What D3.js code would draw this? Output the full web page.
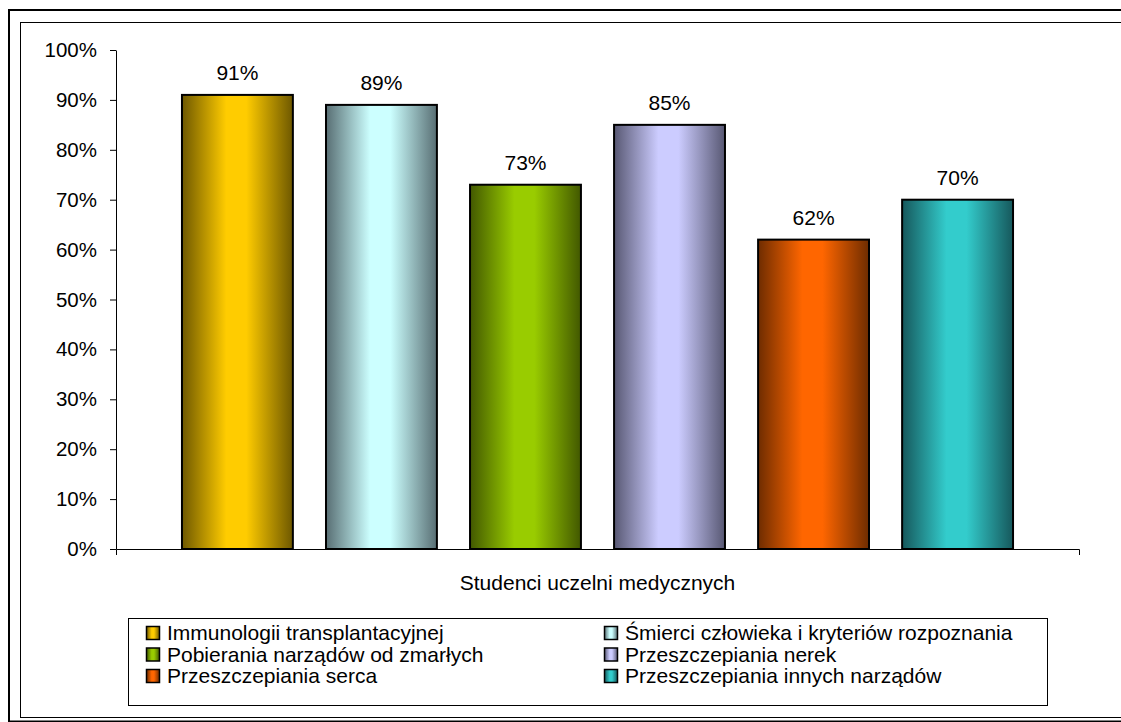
<!DOCTYPE html>
<html>
<head>
<meta charset="utf-8">
<script src="https://cdn.jsdelivr.net/npm/d3@7/dist/d3.min.js"></script>
<style>
  html, body { margin: 0; padding: 0; background: #fff; }
  svg { display: block; font-family: "Liberation Sans", Arial, sans-serif; }
</style>
</head>
<body>
<svg id="chart" width="1121" height="722"></svg>
<script>
// ---- data ----
const categories = ["Studenci uczelni medycznych"];
const series = [
  "Immunologii transplantacyjnej",
  "Śmierci człowieka i kryteriów rozpoznania",
  "Pobierania narządów od zmarłych",
  "Przeszczepiania nerek",
  "Przeszczepiania serca",
  "Przeszczepiania innych narządów"
];
const values = [91, 89, 73, 85, 62, 70];
const yTicks = [0, 10, 20, 30, 40, 50, 60, 70, 80, 90, 100];
const colors = ["#ffcc00", "#ccffff", "#99cc00", "#ccccff", "#ff6600", "#33cccc"];

// ---- layout ----
const svg = d3.select("#chart");
const W = 1121, H = 722;
const plot = { left: 116, right: 1079, top: 50, bottom: 549 };

// frames
svg.append("rect").attr("x", 9).attr("y", 10).attr("width", W + 20).attr("height", 711.5)
  .attr("fill", "none").attr("stroke", "#000").attr("stroke-width", 2);
svg.append("rect").attr("x", 20.5).attr("y", 22.5).attr("width", W + 20).attr("height", 695)
  .attr("fill", "none").attr("stroke", "#000").attr("stroke-width", 1);

// gradients
const defs = svg.append("defs");
colors.forEach((c, i) => {
  const light = d3.rgb(c);
  const dark = d3.rgb(light.r * 0.43, light.g * 0.43, light.b * 0.45);
  const g = defs.append("linearGradient").attr("id", "grad" + i)
    .attr("x1", "0%").attr("x2", "100%").attr("y1", "0%").attr("y2", "0%");
  g.append("stop").attr("offset", "0%").attr("stop-color", dark.formatHex());
  g.append("stop").attr("offset", "40%").attr("stop-color", light.formatHex());
  g.append("stop").attr("offset", "58%").attr("stop-color", light.formatHex());
  g.append("stop").attr("offset", "100%").attr("stop-color", dark.formatHex());
});

// scales
const y = d3.scaleLinear().domain([0, 100]).range([plot.bottom, plot.top]);
const xCat = d3.scaleBand().domain(categories).range([plot.left, plot.right]);
const x = d3.scaleBand().domain(series).range([plot.left, plot.right])
  .paddingInner(0.23).paddingOuter(0.458);

// y axis
const yAxis = d3.axisLeft(y).tickValues(yTicks).tickSize(6).tickSizeOuter(0).tickPadding(13)
  .tickFormat(d => d + "%");
const gy = svg.append("g").attr("transform", `translate(${plot.left},0)`).call(yAxis);
gy.select(".domain").attr("stroke", "#000");
gy.selectAll(".tick line").attr("stroke", "#000");
gy.selectAll(".tick text").attr("font-size", "20.5px").attr("fill", "#000")
  .attr("font-family", "Liberation Sans, Arial, sans-serif");

// x axis
const xAxis = d3.axisBottom(xCat).tickSize(0).tickSizeOuter(6).tickPadding(26);
const gx = svg.append("g").attr("transform", `translate(0,${plot.bottom})`).call(xAxis);
gx.select(".domain").attr("stroke", "#000");
gx.selectAll(".tick text").attr("font-size", "21px").attr("fill", "#000")
  .attr("font-family", "Liberation Sans, Arial, sans-serif");

// bars
svg.append("g").selectAll("rect").data(series).join("rect")
  .attr("x", d => x(d))
  .attr("y", (d, i) => y(values[i]))
  .attr("width", x.bandwidth())
  .attr("height", (d, i) => y(0) - y(values[i]))
  .attr("fill", (d, i) => `url(#grad${i})`)
  .attr("stroke", "#000").attr("stroke-width", 2);

// value labels
svg.append("g").selectAll("text").data(series).join("text")
  .attr("x", d => x(d) + x.bandwidth() / 2)
  .attr("y", (d, i) => y(values[i]) - 15)
  .attr("text-anchor", "middle")
  .attr("font-size", "21px")
  .attr("fill", "#000")
  .text((d, i) => values[i] + "%");

// legend
const legend = { x: 128.5, y: 618.5, w: 919, h: 87 };
svg.append("rect").attr("x", legend.x).attr("y", legend.y).attr("width", legend.w).attr("height", legend.h)
  .attr("fill", "#fff").attr("stroke", "#000").attr("stroke-width", 1);
const colX = [146, 604];
const rowY = [633, 654.5, 676];
const li = svg.append("g").selectAll("g").data(series).join("g")
  .attr("transform", (d, i) => `translate(${colX[i % 2]},${rowY[Math.floor(i / 2)]})`);
li.append("rect").attr("x", 0.5).attr("y", -6.5).attr("width", 13).attr("height", 13)
  .attr("fill", (d, i) => `url(#grad${i})`).attr("stroke", "#000").attr("stroke-width", 1.5);
li.append("text").attr("x", 21).attr("y", 0).attr("dy", "0.35em")
  .attr("font-size", "21px").attr("fill", "#000").text(d => d);
</script>
</body>
</html>
